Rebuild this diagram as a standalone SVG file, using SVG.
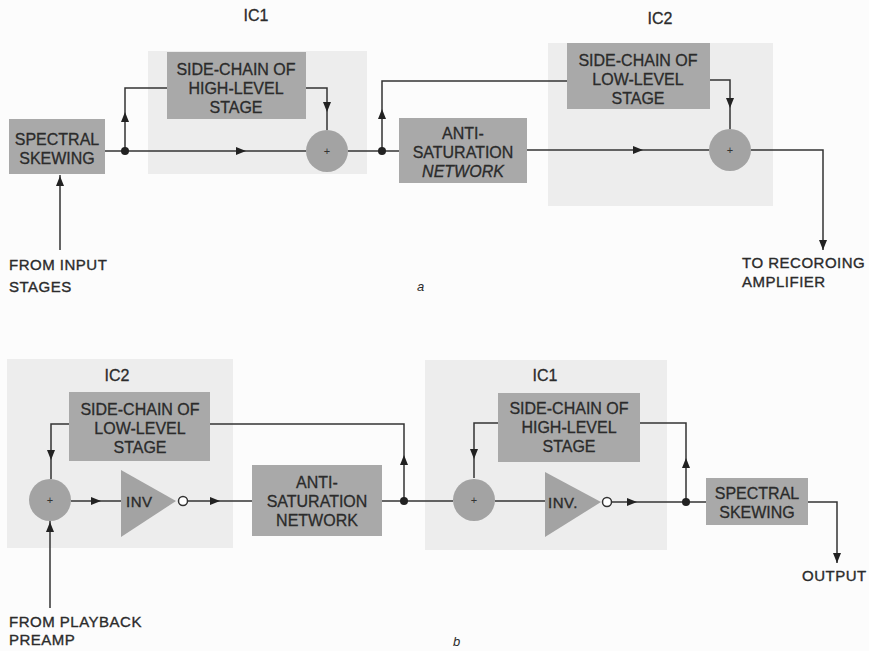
<svg xmlns="http://www.w3.org/2000/svg" xmlns:xlink="http://www.w3.org/1999/xlink" width="869" height="651" viewBox="0 0 869 651">
<style>
.bg{fill:#fcfcfc}
.panel{fill:#ededed}
.box{fill:#a9a9a9}
.sum{fill:#a3a3a3}
.t{font-family:"Liberation Sans",Arial,sans-serif;font-size:16px;fill:#2b2b2b;text-anchor:middle;stroke:#2b2b2b;stroke-width:0.3}
.l{font-family:"Liberation Sans",Arial,sans-serif;font-size:15px;fill:#2b2b2b;stroke:#2b2b2b;stroke-width:0.35;letter-spacing:0.5px}
.p{font-family:"Liberation Sans",Arial,sans-serif;font-size:11px;fill:#333;text-anchor:middle}
.it{font-family:"Liberation Sans",Arial,sans-serif;font-size:13px;font-style:italic;fill:#2b2b2b}
.w{fill:none;stroke:#333;stroke-width:1.5}
.dot{fill:#222}
.bub{fill:#fff;stroke:#333;stroke-width:1.5}
.ah{fill:#222}
</style>
<defs>
<path id="ar" d="M0,0 L-10,-4 L-10,4 Z"/>
</defs>
<rect class="bg" x="0" y="0" width="869" height="651"/>

<g id="panels">
<rect class="panel" x="148" y="51" width="219" height="123"/>
<rect class="panel" x="548" y="43" width="225" height="163"/>
<rect class="panel" x="7" y="359" width="226" height="189"/>
<rect class="panel" x="425" y="360" width="242" height="190"/>
</g>

<g id="connectors">
<!-- part a -->
<path class="w" d="M105,151 H306"/>
<path class="w" d="M125,151 V88 H167"/>
<path class="w" d="M306,88 H327 V130"/>
<path class="w" d="M348,151 H399"/>
<path class="w" d="M382,151 V81 H567"/>
<path class="w" d="M527,150 H709"/>
<path class="w" d="M710,80 H730 V129"/>
<path class="w" d="M751,150 H823 V250"/>
<path class="w" d="M60,250 V175"/>
<circle class="dot" cx="125" cy="151" r="4"/>
<circle class="dot" cx="382" cy="151" r="4"/>
<use xlink:href="#ar" class="ah" transform="translate(246,151)"/>
<use xlink:href="#ar" class="ah" transform="translate(125,112) rotate(-90)"/>
<use xlink:href="#ar" class="ah" transform="translate(327,112) rotate(90)"/>
<use xlink:href="#ar" class="ah" transform="translate(382,109) rotate(-90)"/>
<use xlink:href="#ar" class="ah" transform="translate(643,150)"/>
<use xlink:href="#ar" class="ah" transform="translate(730,108) rotate(90)"/>
<use xlink:href="#ar" class="ah" transform="translate(823,250) rotate(90)"/>
<use xlink:href="#ar" class="ah" transform="translate(60,176) rotate(-90)"/>
<!-- part b -->
<path class="w" d="M50,608 V521"/>
<path class="w" d="M69,424 H51 V479"/>
<path class="w" d="M71,501 H121"/>
<path class="w" d="M188,501 H252"/>
<path class="w" d="M382,501 H453"/>
<path class="w" d="M404,501 V424 H210"/>
<path class="w" d="M498,423 H474 V478"/>
<path class="w" d="M495,501 H545"/>
<path class="w" d="M611,502 H706"/>
<path class="w" d="M686,502 V423 H640"/>
<path class="w" d="M808,502 H837 V563"/>
<circle class="dot" cx="404" cy="501" r="4"/>
<circle class="dot" cx="686" cy="502" r="4"/>
<use xlink:href="#ar" class="ah" transform="translate(50,522) rotate(-90)"/>
<use xlink:href="#ar" class="ah" transform="translate(51,460) rotate(90)"/>
<use xlink:href="#ar" class="ah" transform="translate(101,501)"/>
<use xlink:href="#ar" class="ah" transform="translate(220,501)"/>
<use xlink:href="#ar" class="ah" transform="translate(404,455) rotate(-90)"/>
<use xlink:href="#ar" class="ah" transform="translate(474,459) rotate(90)"/>
<use xlink:href="#ar" class="ah" transform="translate(637,502)"/>
<use xlink:href="#ar" class="ah" transform="translate(686,458) rotate(-90)"/>
<use xlink:href="#ar" class="ah" transform="translate(837,563) rotate(90)"/>
</g>

<!-- part a nodes -->
<g id="a-ic1-label"><text class="t" x="256" y="21">IC1</text></g>
<g id="a-ic2-label"><text class="t" x="660" y="24">IC2</text></g>
<g id="a-spectral">
<rect class="box" x="9" y="119" width="96" height="55"/>
<text class="t" x="57" y="145">SPECTRAL</text>
<text class="t" x="57" y="164">SKEWING</text>
</g>
<g id="a-sidechain-high">
<rect class="box" x="167" y="52" width="139" height="67"/>
<text class="t" x="236" y="75">SIDE-CHAIN OF</text>
<text class="t" x="236" y="94">HIGH-LEVEL</text>
<text class="t" x="236" y="113">STAGE</text>
</g>
<g id="a-sum1">
<circle class="sum" cx="327" cy="151" r="21"/>
<text class="p" x="327" y="155">+</text>
</g>
<g id="a-antisat">
<rect class="box" x="399" y="118" width="128" height="65"/>
<text class="t" x="463" y="139">ANTI-</text>
<text class="t" x="463" y="158">SATURATION</text>
<text class="t" x="463" y="177" font-style="italic">NETWORK</text>
</g>
<g id="a-sidechain-low">
<rect class="box" x="567" y="43" width="143" height="66"/>
<text class="t" x="638" y="66">SIDE-CHAIN OF</text>
<text class="t" x="638" y="85">LOW-LEVEL</text>
<text class="t" x="638" y="104">STAGE</text>
</g>
<g id="a-sum2">
<circle class="sum" cx="730" cy="150" r="21"/>
<text class="p" x="730" y="154">+</text>
</g>
<g id="a-input"><text class="l" x="9" y="270">FROM INPUT</text><text class="l" x="9" y="292">STAGES</text></g>
<g id="a-output"><text class="l" x="742" y="268">TO RECOROING</text><text class="l" x="742" y="287">AMPLIFIER</text></g>
<g id="a-caption"><text class="it" x="417" y="291">a</text></g>

<!-- part b nodes -->
<g id="b-ic2-label"><text class="t" x="117" y="381">IC2</text></g>
<g id="b-sidechain-low">
<rect class="box" x="69" y="392" width="141" height="69"/>
<text class="t" x="140" y="415">SIDE-CHAIN OF</text>
<text class="t" x="140" y="434">LOW-LEVEL</text>
<text class="t" x="140" y="453">STAGE</text>
</g>
<g id="b-sum2">
<circle class="sum" cx="50" cy="500" r="21"/>
<text class="p" x="50" y="504">+</text>
</g>
<g id="b-inv1">
<polygon class="sum" points="121,470 176,501 121,537"/>
<text class="l" x="126" y="507">INV</text>
<circle class="bub" cx="183" cy="501" r="4.5"/>
</g>
<g id="b-antisat">
<rect class="box" x="252" y="465" width="130" height="71"/>
<text class="t" x="317" y="488">ANTI-</text>
<text class="t" x="317" y="507">SATURATION</text>
<text class="t" x="317" y="526">NETWORK</text>
</g>
<g id="b-ic1-label"><text class="t" x="545" y="381">IC1</text></g>
<g id="b-sidechain-high">
<rect class="box" x="498" y="393" width="142" height="69"/>
<text class="t" x="569" y="414">SIDE-CHAIN OF</text>
<text class="t" x="569" y="433">HIGH-LEVEL</text>
<text class="t" x="569" y="452">STAGE</text>
</g>
<g id="b-sum1">
<circle class="sum" cx="474" cy="500" r="21"/>
<text class="p" x="474" y="504">+</text>
</g>
<g id="b-inv2">
<polygon class="sum" points="545,472 601,502 545,537"/>
<text class="l" x="548" y="508">INV.</text>
<circle class="bub" cx="607" cy="502" r="4.5"/>
</g>
<g id="b-spectral">
<rect class="box" x="706" y="478" width="102" height="47"/>
<text class="t" x="757" y="499">SPECTRAL</text>
<text class="t" x="757" y="518">SKEWING</text>
</g>
<g id="b-input"><text class="l" x="9" y="627">FROM PLAYBACK</text><text class="l" x="9" y="645">PREAMP</text></g>
<g id="b-output"><text class="l" x="802" y="581">OUTPUT</text></g>
<g id="b-caption"><text class="it" x="453" y="646">b</text></g>
</svg>
